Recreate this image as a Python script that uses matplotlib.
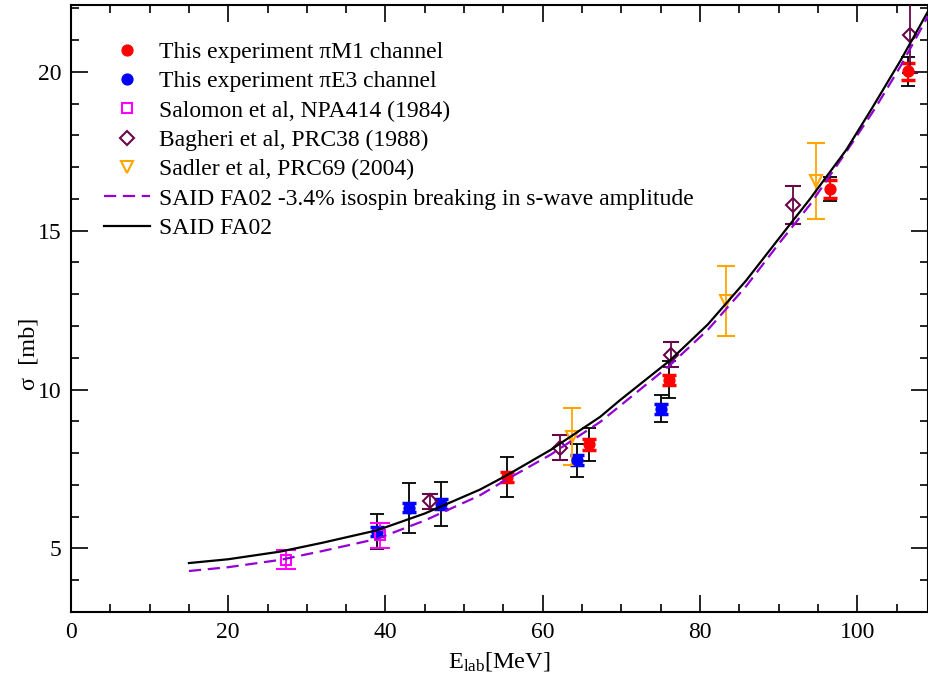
import matplotlib
matplotlib.use("Agg")
import matplotlib.pyplot as plt
from matplotlib.lines import Line2D
from matplotlib.ticker import MultipleLocator

plt.rcParams['font.family'] = ['Liberation Serif', 'DejaVu Serif']
plt.rcParams['mathtext.fontset'] = 'custom'
plt.rcParams['mathtext.rm'] = 'Liberation Serif'
plt.rcParams['mathtext.it'] = 'Liberation Serif:italic'

# --- this experiment, piM1 channel (E, sigma, stat err, total err)
m1_E = [55.5, 65.9, 76.1, 96.5, 106.5]
m1_sig = [7.25, 8.28, 10.31, 16.30, 20.01]
m1_stat = [0.16, 0.17, 0.16, 0.28, 0.26]
m1_tot = [0.62, 0.52, 0.58, 0.38, 0.45]

# --- this experiment, piE3 channel
e3_E = [38.9, 43.0, 47.1, 64.3, 75.1]
e3_sig = [5.53, 6.28, 6.39, 7.77, 9.40]
e3_stat = [0.15, 0.14, 0.15, 0.16, 0.16]
e3_tot = [0.55, 0.78, 0.69, 0.53, 0.42]

# --- Salomon et al
sal_E = [27.4, 39.3]
sal_sig = [4.65, 5.41]
sal_err = [0.29, 0.39]

# --- Bagheri et al
bag_E = [45.6, 62.2, 76.3, 91.8, 106.7]
bag_sig = [6.48, 8.17, 11.10, 15.81, 21.15]
bag_err = [0.24, 0.40, 0.40, 0.61, 1.20]

# --- Sadler et al
sad_E = [63.7, 83.3, 94.7]
sad_sig = [8.51, 12.79, 16.57]
sad_err = [0.90, 1.10, 1.20]

# --- SAID FA02 partial-wave solution
said_E = [15.0, 20.0, 26.6, 32.0, 38.9, 45.0, 52.0, 55.2, 61.0, 67.3, 69.8,
          76.2, 81.0, 85.9, 89.9, 94.0, 98.6, 101.8, 105.5, 109.0]
said_sig = [4.54, 4.66, 4.90, 5.18, 5.57, 6.10, 6.85, 7.27, 8.10, 9.14, 9.66,
            10.92, 12.05, 13.44, 14.71, 16.00, 17.54, 18.82, 20.35, 21.90]

# --- SAID FA02 with -3.4% isospin breaking in s-wave amplitude
isb_E = [15.0, 20.0, 26.6, 32.0, 38.9, 45.0, 52.0, 55.2, 61.0, 67.3, 69.8,
         76.2, 81.0, 85.9, 89.9, 94.0, 98.6, 102.2, 105.5, 109.0]
isb_sig = [4.29, 4.41, 4.64, 4.92, 5.30, 5.88, 6.67, 7.14, 7.95, 8.98, 9.48,
           10.77, 11.88, 13.26, 14.55, 15.82, 17.48, 18.82, 20.17, 21.75]

MAROON = '#670748'
ORANGE = '#ffa500'
VIOLET = '#9400d3'
MAGENTA = '#ff00ff'

fig = plt.figure(figsize=(9.29, 6.73), dpi=100)
ax = fig.add_axes([71 / 929, 61 / 673, 857 / 929, 607 / 673])

# black total-error bars beneath the colored statistical ones
ax.errorbar(m1_E, m1_sig, yerr=m1_tot, fmt='none', ecolor='black',
            elinewidth=1.3, capsize=4.8, capthick=1.3, zorder=2)
ax.errorbar(e3_E, e3_sig, yerr=e3_tot, fmt='none', ecolor='black',
            elinewidth=1.3, capsize=4.8, capthick=1.3, zorder=2)
ax.errorbar(m1_E, m1_sig, yerr=m1_stat, fmt='o', color='#ff0000', ms=7.8,
            ecolor='#ff0000', elinewidth=1.5, capsize=4.8, capthick=2.5, zorder=3)
ax.errorbar(e3_E, e3_sig, yerr=e3_stat, fmt='o', color='#0000ff', ms=7.8,
            ecolor='#0000ff', elinewidth=1.5, capsize=4.8, capthick=2.5, zorder=3)

ax.errorbar(sal_E, sal_sig, yerr=sal_err, fmt='s', mfc='none', mec=MAGENTA,
            mew=1.5, ms=7.5, ecolor=MAGENTA, elinewidth=1.3, capsize=7,
            capthick=1.3, zorder=3)
ax.errorbar(bag_E, bag_sig, yerr=bag_err, fmt='D', mfc='none', mec=MAROON,
            mew=1.5, ms=7, ecolor=MAROON, elinewidth=1.3, capsize=6,
            capthick=1.3, zorder=3)
ax.errorbar(sad_E, sad_sig, yerr=sad_err, fmt='v', mfc='none', mec=ORANGE,
            mew=1.5, ms=9, ecolor=ORANGE, elinewidth=1.3, capsize=6.5,
            capthick=1.3, zorder=3)

ax.plot(isb_E, isb_sig, color=VIOLET, lw=1.6, dashes=(5.5, 3), zorder=4)
ax.plot(said_E, said_sig, color='black', lw=1.6, zorder=5)

ax.set_xlim(0, 109)
ax.set_ylim(3, 22.1)
ax.xaxis.set_major_locator(MultipleLocator(20))
ax.xaxis.set_minor_locator(MultipleLocator(5))
ax.yaxis.set_major_locator(MultipleLocator(5))
ax.yaxis.set_minor_locator(MultipleLocator(1))
ax.tick_params(which='both', direction='in', top=True, right=True,
               labelsize=17, width=1.2)
ax.tick_params(which='major', length=12, pad=7)
ax.tick_params(which='minor', length=6)
for s in ax.spines.values():
    s.set_linewidth(1.5)

ax.set_xlabel(r'E$_{\rm lab}$[MeV]', fontsize=17.5, labelpad=5)
ax.set_ylabel('σ  [mb]', fontsize=17.5)
ax.yaxis.set_label_coords(-0.037, 0.425)

handles = [
    Line2D([], [], ls='none', marker='o', color='#ff0000', ms=7.8),
    Line2D([], [], ls='none', marker='o', color='#0000ff', ms=7.8),
    Line2D([], [], ls='none', marker='s', mfc='none', mec=MAGENTA, mew=1.5, ms=7.5),
    Line2D([], [], ls='none', marker='D', mfc='none', mec=MAROON, mew=1.5, ms=7),
    Line2D([], [], ls='none', marker='v', mfc='none', mec=ORANGE, mew=1.5, ms=9),
    Line2D([], [], color=VIOLET, lw=1.6, dashes=(5.5, 3)),
    Line2D([], [], color='black', lw=1.6),
]
labels = [
    'This experiment πM1 channel',
    'This experiment πE3 channel',
    'Salomon et al, NPA414 (1984)',
    'Bagheri et al, PRC38 (1988)',
    'Sadler et al, PRC69 (2004)',
    'SAID FA02 -3.4% isospin breaking in s-wave amplitude',
    'SAID FA02',
]
ax.legend(handles, labels, loc='upper left', bbox_to_anchor=(0.0385, 0.94),
          frameon=False, fontsize=17, handlelength=1.95, handletextpad=0.38,
          labelspacing=0.33, borderaxespad=0, borderpad=0)

fig.savefig('out.png', dpi=100)
